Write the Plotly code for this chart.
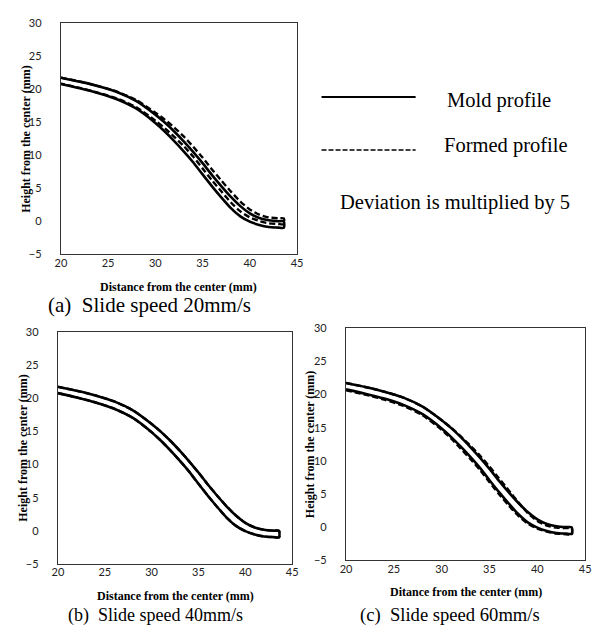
import plotly.graph_objects as go

# ---------------- data ----------------
x_pos = [20, 22, 24, 26, 28, 30, 31, 32, 33, 34, 35, 36, 37, 38, 39, 40, 41, 42, 43, 43.6]

mold_upper = [21.75, 21.15, 20.45, 19.55, 18.2, 16.15, 14.95, 13.6, 12.1, 10.5,
              8.8, 7.0, 5.3, 3.7, 2.3, 1.2, 0.5, 0.15, 0.02, 0.0]
mold_lower = [20.8, 20.15, 19.4, 18.45, 17.05, 14.9, 13.6, 12.15, 10.6, 8.95,
              7.1, 5.3, 3.6, 2.0, 0.75, -0.05, -0.55, -0.85, -0.95, -1.0]

formed_upper_20 = [21.75, 21.15, 20.45, 19.6, 18.35, 16.45, 15.4, 14.2, 12.85, 11.3,
                   9.65, 7.85, 6.15, 4.5, 3.0, 1.8, 1.0, 0.6, 0.47, 0.45]
formed_lower_20 = [20.85, 20.2, 19.45, 18.55, 17.25, 15.25, 14.1, 12.8, 11.4, 9.8,
                   8.0, 6.2, 4.5, 2.85, 1.5, 0.6, 0.05, -0.3, -0.4, -0.45]

formed_upper_40 = [21.75, 21.15, 20.45, 19.55, 18.2, 16.15, 14.95, 13.6, 12.1, 10.5,
                   8.8, 7.0, 5.3, 3.7, 2.3, 1.2, 0.5, 0.15, 0.02, 0.0]
formed_lower_40 = [20.8, 20.15, 19.4, 18.45, 17.05, 14.9, 13.6, 12.15, 10.6, 8.95,
                   7.1, 5.3, 3.6, 2.0, 0.75, -0.05, -0.55, -0.85, -0.95, -1.0]

formed_upper_60 = [21.75, 21.15, 20.45, 19.55, 18.2, 16.15, 15.0, 13.7, 12.3, 10.8,
                   9.15, 7.35, 5.6, 3.8, 2.15, 0.95, 0.25, -0.05, -0.13, -0.15]
formed_lower_60 = [20.65, 20.0, 19.25, 18.3, 16.9, 14.7, 13.35, 11.85, 10.3, 8.65,
                   6.8, 5.0, 3.3, 1.75, 0.55, -0.2, -0.65, -0.95, -1.05, -1.1]

x_ticks = [20, 25, 30, 35, 40, 45]
y_ticks = [-5, 0, 5, 10, 15, 20, 25, 30]

captions = ["(a)&nbsp;&nbsp;Slide speed 20mm/s", "(b)&nbsp;&nbsp;Slide speed 40mm/s",
            "(c)&nbsp;&nbsp;Slide speed 60mm/s"]
x_titles = ["Distance from the center (mm)", "Distance from the center (mm)",
            "Ditance from the center (mm)"]
y_title = "Height from the center (mm)"
legend_labels = ["Mold profile", "Formed profile"]
note = "Deviation is multiplied by 5"

# ---------------- layout helpers ----------------
W, H = 598, 637


def px(t):
    return min(1.0, max(0.0, t / W))


def py(t):
    return min(1.0, max(0.0, 1 - t / H))


panels = [
    # (left, right, top, bottom) in pixels
    (56, 297, 16.5, 252.5),
    (53, 292, 332, 568.5),
    (347, 591, 328, 565),
]
formed = [(formed_upper_20, formed_lower_20),
          (formed_upper_40, formed_lower_40),
          (formed_upper_60, formed_lower_60)]


def outline(upper, lower):
    xs = list(x_pos) + list(reversed(x_pos))
    ys = list(upper) + list(reversed(lower))
    return xs, ys


fig = go.Figure()
serif = "Liberation Serif, Times New Roman, serif"
tickfont = dict(family="Lato, Liberation Sans, sans-serif", size=11, color="#222")

annotations = []
xt_pos = [(176.5, 286), (172.5, 601), (469, 597)]
yt_x = [20.5, 17, 311]
for i, (l, r, t, b) in enumerate(panels):
    n = "" if i == 0 else str(i + 1)
    xa, ya = "x" + n, "y" + n
    fu, fl = formed[i]
    fx, fy = outline(fu, fl)
    fig.add_trace(go.Scatter(x=fx, y=fy, mode="lines", xaxis=xa, yaxis=ya,
                             line=dict(color="black", width=2.4, dash="6px,3px",
                                       shape="spline", smoothing=0.6),
                             showlegend=False, hoverinfo="skip"))
    mx, my = outline(mold_upper, mold_lower)
    fig.add_trace(go.Scatter(x=mx, y=my, mode="lines", xaxis=xa, yaxis=ya,
                             line=dict(color="black", width=2.6,
                                       shape="spline", smoothing=0.6),
                             showlegend=False, hoverinfo="skip"))
    axis_common = dict(showgrid=False, zeroline=False, showline=True, mirror=True,
                       linecolor="#333", linewidth=1.2, ticks="", tickfont=tickfont)
    fig.update_layout(**{
        ("xaxis" + n): dict(domain=[px(l), px(r)], range=[20, 45], tickvals=x_ticks,
                            anchor=ya, ticklabelstandoff=-2, **axis_common),
        ("yaxis" + n): dict(domain=[py(b), py(t)], range=[-5, 30], tickvals=y_ticks,
                            anchor=xa, ticklabelstandoff=16, **axis_common),
    })
    cy = (t + b) / 2
    annotations.append(dict(text="<b>" + x_titles[i] + "</b>", x=px(xt_pos[i][0]),
                            y=py(xt_pos[i][1]), xref="paper", yref="paper",
                            showarrow=False,
                            font=dict(family=serif, size=12, color="black"),
                            xanchor="center", yanchor="middle"))
    annotations.append(dict(text="<b>" + y_title + "</b>", x=px(yt_x[i]), y=py(cy),
                            xref="paper", yref="paper", showarrow=False, textangle=-90,
                            font=dict(family=serif, size=12, color="black"),
                            xanchor="center", yanchor="middle"))

# captions
cap_pos = [(146, 304, 21), (153, 621, 18), (453, 621, 18.6)]
for (x0, y0, fs), txt in zip(cap_pos, captions):
    annotations.append(dict(text=txt, x=px(x0), y=py(y0), xref="paper", yref="paper",
                            showarrow=False, xanchor="center", yanchor="middle",
                            font=dict(family=serif, size=fs, color="black")))

# key
annotations.append(dict(text=legend_labels[0], x=px(448), y=py(95), xref="paper",
                        yref="paper", showarrow=False, xanchor="left", yanchor="middle",
                        font=dict(family=serif, size=20.5, color="black")))
annotations.append(dict(text=legend_labels[1], x=px(445), y=py(141), xref="paper",
                        yref="paper", showarrow=False, xanchor="left", yanchor="middle",
                        font=dict(family=serif, size=20.5, color="black")))
annotations.append(dict(text=note, x=px(339), y=py(200), xref="paper",
                        yref="paper", showarrow=False, xanchor="left", yanchor="middle",
                        font=dict(family=serif, size=20.5, color="black")))

shapes = [
    dict(type="line", xref="paper", yref="paper", x0=px(322), x1=px(418), y0=py(92),
         y1=py(92), line=dict(color="black", width=2)),
    dict(type="line", xref="paper", yref="paper", x0=px(322), x1=px(418), y0=py(146),
         y1=py(146), line=dict(color="black", width=1.5, dash="5px,2px")),
]

fig.update_layout(width=W, height=H, margin=dict(l=0, r=0, t=0, b=0),
                  paper_bgcolor="white", plot_bgcolor="white",
                  annotations=annotations, shapes=shapes, showlegend=False)

fig.write_html("out.html", config={"displayModeBar": False},
               post_script="document.body.style.margin='0';"
                           "document.body.style.overflow='hidden';")
